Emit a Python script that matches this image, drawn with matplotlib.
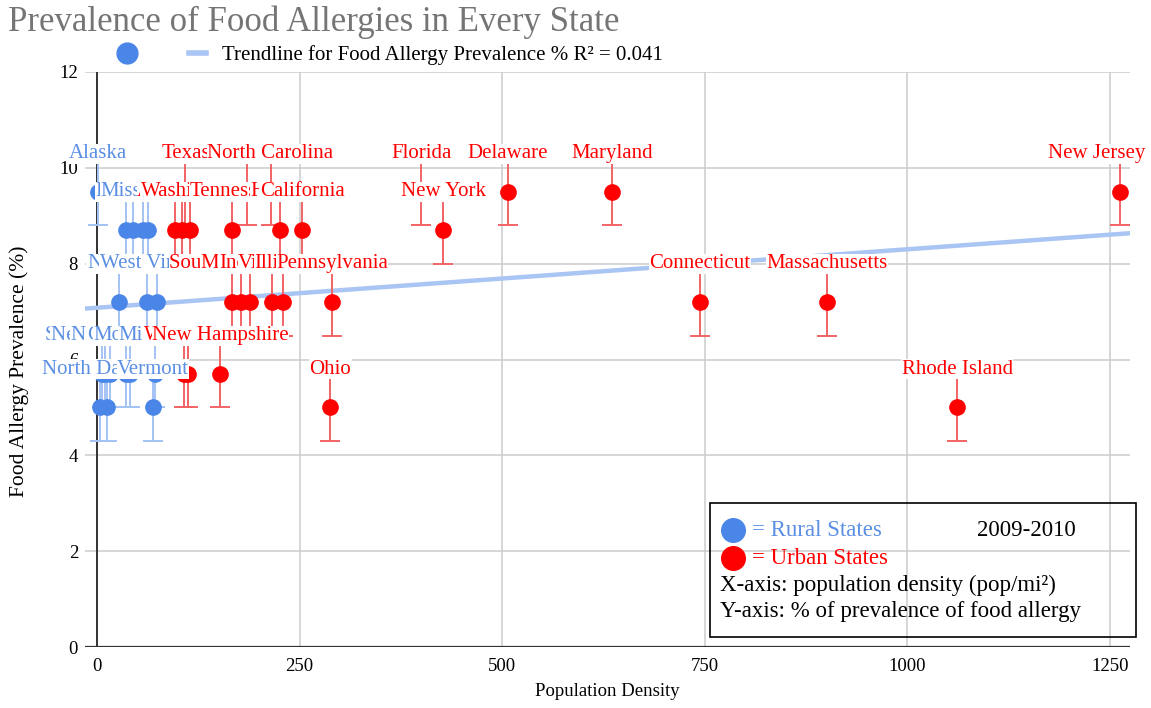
import numpy as np
import matplotlib
matplotlib.use('Agg')
import matplotlib.pyplot as plt
from matplotlib.lines import Line2D
from matplotlib.patches import Rectangle

plt.rcParams['font.family'] = ['Liberation Serif', 'DejaVu Serif']

# rural states (drawn first) -- density (pop/mi^2), prevalence (%)
rural_names = ["Alaska", "Kansas", "Maine", "Arkansas", "Mississippi",
               "Nevada", "Minnesota", "West Virginia",
               "South Dakota", "New Mexico", "Nebraska", "Colorado", "Montana", "Missouri",
               "Wyoming", "North Dakota", "Vermont"]
rural_density = [1, 35, 44, 56, 63,
                 27, 62, 74,
                 6, 10, 16, 35, 41, 72,
                 12, 3, 69]
rural_prev = [9.5, 8.7, 8.7, 8.7, 8.7,
              7.2, 7.2, 7.2,
              5.7, 5.7, 5.7, 5.7, 5.7, 5.7,
              5.0, 5.0, 5.0]

# urban states
urban_names = ["Texas", "Georgia", "North Carolina", "Florida", "Delaware", "Maryland", "New Jersey",
               "Alabama", "Louisiana", "Washington", "Tennessee", "Hawaii", "California", "New York",
               "South Carolina", "Michigan", "Indiana", "Virginia", "Illinois", "Pennsylvania",
               "Connecticut", "Massachusetts",
               "Kentucky", "Wisconsin", "New Hampshire",
               "Ohio", "Rhode Island"]
urban_density = [109, 185, 214, 400, 507, 636, 1263,
                 96, 105, 115, 167, 226, 253, 427,
                 167, 177, 189, 216, 230, 290,
                 744, 901,
                 107, 112, 152,
                 288, 1062]
urban_prev = [9.5, 9.5, 9.5, 9.5, 9.5, 9.5, 9.5,
              8.7, 8.7, 8.7, 8.7, 8.7, 8.7, 8.7,
              7.2, 7.2, 7.2, 7.2, 7.2, 7.2,
              7.2, 7.2,
              5.7, 5.7, 5.7,
              5.0, 5.0]

err = 0.7
trend_intercept = 7.08
trend_slope = 0.00122

BLUE = '#4A86E8'
BLUE_LBL = '#5B8FE3'
BLUE_ERR = '#A4C2F4'
RED = '#FF0000'
RED_ERR = '#F26464'
TREND = '#A9C5F3'

fig = plt.figure(figsize=(11.51, 7.08), dpi=100)
ax = fig.add_axes([85/1151, 1-647/708, 1045/1151, 575/708])

xmin, xmax = -15, 1275
ax.set_xlim(xmin, xmax)
ax.set_ylim(0, 12)
ax.set_xticks([0, 250, 500, 750, 1000, 1250])
ax.set_yticks([0, 2, 4, 6, 8, 10, 12])
ax.grid(True, color='#CCCCCC', lw=1.1, zorder=0)
ax.set_axisbelow(True)
for s in ax.spines.values():
    s.set_visible(False)
ax.tick_params(axis='y', length=0, labelsize=13.5, pad=5)
ax.tick_params(axis='x', length=0, labelsize=13.5, pad=8)
ax.axvline(0, color='#333333', lw=1.4, zorder=1)
ax.axhline(0, color='#333333', lw=1.6, zorder=1)

# trendline
tx = np.array([xmin, xmax])
ax.plot(tx, trend_intercept + trend_slope*tx, color=TREND, lw=3.2, zorder=2,
        solid_capstyle='butt')

ax.errorbar(rural_density, rural_prev, yerr=err, fmt='none', ecolor=BLUE_ERR,
            elinewidth=1.4, capsize=7, capthick=1.4, zorder=3)
ax.errorbar(urban_density, urban_prev, yerr=err, fmt='none', ecolor=RED_ERR,
            elinewidth=1.4, capsize=7, capthick=1.4, zorder=3)
ax.plot(rural_density, rural_prev, 'o', color=BLUE, ms=11, zorder=4)
ax.plot(urban_density, urban_prev, 'o', color=RED, ms=11, zorder=4)

# data labels (white boxes, later ones cover earlier ones)
labels = []
for names, xs, ys, c in [(rural_names, rural_density, rural_prev, BLUE_LBL),
                         (urban_names, urban_density, urban_prev, RED)]:
    for n, x, y in zip(names, xs, ys):
        a = ax.annotate(n, (x, y), xytext=(0, 27.5), textcoords='offset points',
                        ha='center', va='center', fontsize=15, color=c, zorder=6,
                        bbox=dict(boxstyle='square,pad=0.02', fc='white', ec='none'),
                        annotation_clip=False)
        labels.append(a)

ax.set_xlabel('Population Density', fontsize=13.5, labelpad=6)
fig.text(19/1151, 1-371/708, 'Food Allergy Prevalence (%)', fontsize=15.5,
         rotation=90, ha='center', va='center')

fig.text(8/1151, 1-22/708, 'Prevalence of Food Allergies in Every State',
         fontsize=25, color='#757575', va='center', ha='left')

# top legend
handles = [Line2D([], [], marker='o', ls='none', color=BLUE, ms=15),
           Line2D([], [], color=TREND, lw=4)]
fig.legend(handles, ['', 'Trendline for Food Allergy Prevalence % R\u00b2 = 0.041'],
           loc='center left', bbox_to_anchor=(110/1151, 1-55/708), ncol=2,
           frameon=False, fontsize=15, handlelength=0.8, columnspacing=1.8,
           handletextpad=0.8, borderaxespad=0)

# annotation box
fig.add_artist(Rectangle((710/1151, 1-637/708), 426/1151, 134/708,
                         transform=fig.transFigure, fill=False, ec='black', lw=1.2))
fig.add_artist(Line2D([733/1151], [1-530/708], marker='o', color=BLUE, ms=17,
                      transform=fig.transFigure))
fig.add_artist(Line2D([733/1151], [1-558/708], marker='o', color=RED, ms=17,
                      transform=fig.transFigure))
fig.text(752/1151, 1-530/708, '= Rural States', fontsize=16.5, color=BLUE_LBL, va='center')
fig.text(752/1151, 1-558/708, '= Urban States', fontsize=16.5, color=RED, va='center')
fig.text(977/1151, 1-530/708, '2009-2010', fontsize=16.5, color='black', va='center')
fig.text(720/1151, 1-585/708, 'X-axis: population density (pop/mi\u00b2)', fontsize=16.5,
         color='black', va='center')
fig.text(720/1151, 1-612/708, 'Y-axis: % of prevalence of food allergy', fontsize=16.5,
         color='black', va='center')

# keep labels inside the figure (like the sheet does for New Jersey)
fig.canvas.draw()
r = fig.canvas.get_renderer()
for a in labels:
    bb = a.get_window_extent(r)
    over = bb.x1 - (fig.bbox.width - 6)
    if over > 0:
        a.xyann = (-over * 72 / fig.dpi, 27.5)

fig.savefig('out.png', dpi=100)
